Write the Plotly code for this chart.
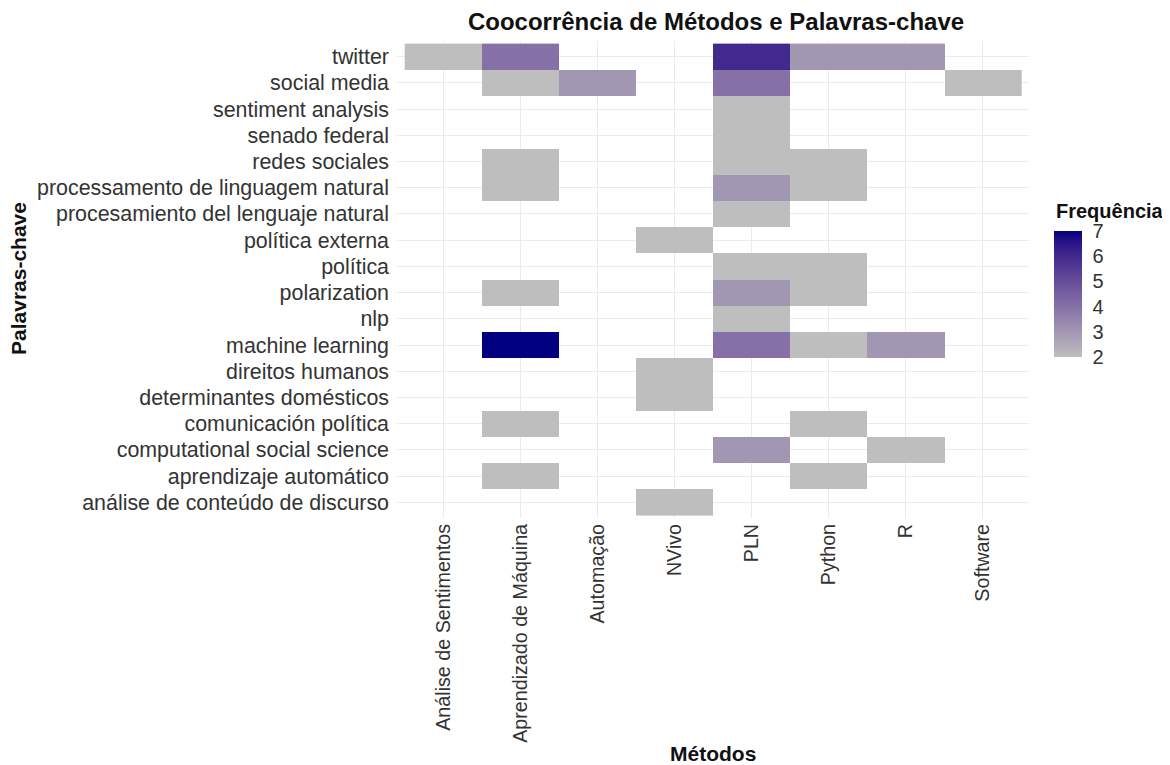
import plotly.graph_objects as go

metodos = ["Análise de Sentimentos", "Aprendizado de Máquina", "Automação", "NVivo",
           "PLN", "Python", "R", "Software"]

# bottom to top (alphabetical, as in the reference)
palavras = ["análise de conteúdo de discurso", "aprendizaje automático",
            "computational social science", "comunicación política",
            "determinantes domésticos", "direitos humanos", "machine learning", "nlp",
            "polarization", "política", "política externa",
            "procesamiento del lenguaje natural", "processamento de linguagem natural",
            "redes sociales", "senado federal", "sentiment analysis", "social media", "twitter"]

# frequency per keyword (row) and method (column); None = no co-occurrence
#                    AS    AM    Au    NV    PLN   Py    R     SW
freq = {
    "análise de conteúdo de discurso":   [None, None, None, 2,    None, None, None, None],
    "aprendizaje automático":            [None, 2,    None, None, None, 2,    None, None],
    "computational social science":      [None, None, None, None, 3,    None, 2,    None],
    "comunicación política":             [None, 2,    None, None, None, 2,    None, None],
    "determinantes domésticos":          [None, None, None, 2,    None, None, None, None],
    "direitos humanos":                  [None, None, None, 2,    None, None, None, None],
    "machine learning":                  [None, 7,    None, None, 4,    2,    3,    None],
    "nlp":                               [None, None, None, None, 2,    None, None, None],
    "polarization":                      [None, 2,    None, None, 3,    2,    None, None],
    "política":                          [None, None, None, None, 2,    2,    None, None],
    "política externa":                  [None, None, None, 2,    None, None, None, None],
    "procesamiento del lenguaje natural":[None, None, None, None, 2,    None, None, None],
    "processamento de linguagem natural":[None, 2,    None, None, 3,    2,    None, None],
    "redes sociales":                    [None, 2,    None, None, 2,    2,    None, None],
    "senado federal":                    [None, None, None, None, 2,    None, None, None],
    "sentiment analysis":                [None, None, None, None, 2,    None, None, None],
    "social media":                      [None, 2,    3,    None, 4,    None, None, 2],
    "twitter":                           [2,    4,    None, None, 6,    3,    3,    None],
}
legend_ticks = [2, 3, 4, 5, 6, 7]

z = [freq[p] for p in palavras]

# Lab-space gradient from gray to navy (like ggplot's scale_fill_gradient)
def srgb_to_lin(c):
    c = c / 255.0
    return c / 12.92 if c <= 0.04045 else ((c + 0.055) / 1.055) ** 2.4

def lin_to_srgb(c):
    c = max(0.0, min(1.0, c))
    v = 12.92 * c if c <= 0.0031308 else 1.055 * c ** (1 / 2.4) - 0.055
    return int(round(v * 255))

Xn, Yn, Zn = 0.95047, 1.0, 1.08883

def f(t):
    return t ** (1 / 3) if t > (6 / 29) ** 3 else t / (3 * (6 / 29) ** 2) + 4 / 29

def finv(t):
    return t ** 3 if t > 6 / 29 else 3 * (6 / 29) ** 2 * (t - 4 / 29)

def rgb_to_lab(rgb):
    r, g, b = [srgb_to_lin(c) for c in rgb]
    X = 0.4124 * r + 0.3576 * g + 0.1805 * b
    Y = 0.2126 * r + 0.7152 * g + 0.0722 * b
    Zc = 0.0193 * r + 0.1192 * g + 0.9505 * b
    fx, fy, fz = f(X / Xn), f(Y / Yn), f(Zc / Zn)
    return (116 * fy - 16, 500 * (fx - fy), 200 * (fy - fz))

def lab_to_rgb(lab):
    L, a, b = lab
    fy = (L + 16) / 116
    fx = fy + a / 500
    fz = fy - b / 200
    X, Y, Zc = Xn * finv(fx), Yn * finv(fy), Zn * finv(fz)
    r = 3.2406 * X - 1.5372 * Y - 0.4986 * Zc
    g = -0.9689 * X + 1.8758 * Y + 0.0415 * Zc
    bb = 0.0557 * X - 0.2040 * Y + 1.0570 * Zc
    return "rgb(%d,%d,%d)" % (lin_to_srgb(r), lin_to_srgb(g), lin_to_srgb(bb))

low = rgb_to_lab((190, 190, 190))
high = rgb_to_lab((0, 0, 128))
n = 20
colorscale = []
for i in range(n + 1):
    t = i / n
    lab = tuple(low[k] + (high[k] - low[k]) * t for k in range(3))
    colorscale.append([t, lab_to_rgb(lab)])

# figure geometry (page has an 8px body margin)
W, H = 1162, 757
L, R, T, B = 389, 141, 33, 247
PW, PH = W - L - R, H - T - B

def px_x(x):  # figure px -> paper x
    return (x - L) / PW

def px_y(y):  # figure px -> paper y
    return (H - B - y) / PH

fig = go.Figure(go.Heatmap(
    x=metodos, y=palavras, z=z,
    zmin=2, zmax=7,
    colorscale=colorscale,
    hoverongaps=False,
    colorbar=dict(
        tickvals=legend_ticks,
        ticks="outside", ticklen=7, tickcolor="rgba(0,0,0,0)",
        tickfont=dict(size=20, color="#333"),
        thickness=28, len=126 / PH, lenmode="fraction",
        x=px_x(1046), xanchor="left", y=px_y(286), yanchor="middle",
        outlinewidth=0, xpad=0, ypad=0,
    ),
))

fig.update_layout(
    width=W, height=H,
    paper_bgcolor="white", plot_bgcolor="white",
    font=dict(family="Liberation Sans, Arial, sans-serif", color="#333"),
    margin=dict(l=L, r=R, t=T, b=B, pad=0),
    title=dict(text="<b>Coocorrência de Métodos e Palavras-chave</b>",
               x=708 / W, xanchor="center", y=1 - 14 / H, yanchor="middle",
               font=dict(size=24, color="#111")),
    xaxis=dict(
        type="category", categoryorder="array", categoryarray=metodos,
        range=[-0.6, len(metodos) - 0.4],
        showgrid=True, gridcolor="#EBEBEB", gridwidth=1.2,
        zeroline=False, showline=False, ticks="",
        tickangle=-90, tickfont=dict(size=19.7, color="#333"),
        ticklabelstandoff=1,
    ),
    yaxis=dict(
        type="category", categoryorder="array", categoryarray=palavras,
        range=[-0.6, len(palavras) - 0.4],
        showgrid=True, gridcolor="#EBEBEB", gridwidth=1.2,
        zeroline=False, showline=False, ticks="",
        tickfont=dict(size=21.4, color="#333"),
        ticklabelstandoff=7,
    ),
    annotations=[
        dict(text="<b>Métodos</b>", xref="paper", yref="paper",
             x=px_x(705), y=px_y(745.5), xanchor="center", yanchor="middle",
             showarrow=False, font=dict(size=21, color="#111")),
        dict(text="<b>Palavras-chave</b>", xref="paper", yref="paper",
             x=px_x(10), y=px_y(271), xanchor="center", yanchor="middle",
             textangle=-90, showarrow=False, font=dict(size=21, color="#111")),
        dict(text="<b>Frequência</b>", xref="paper", yref="paper",
             x=px_x(1046), y=px_y(203), xanchor="left", yanchor="middle",
             showarrow=False, font=dict(size=20, color="#111")),
    ],
)

fig.write_html("out.html")
